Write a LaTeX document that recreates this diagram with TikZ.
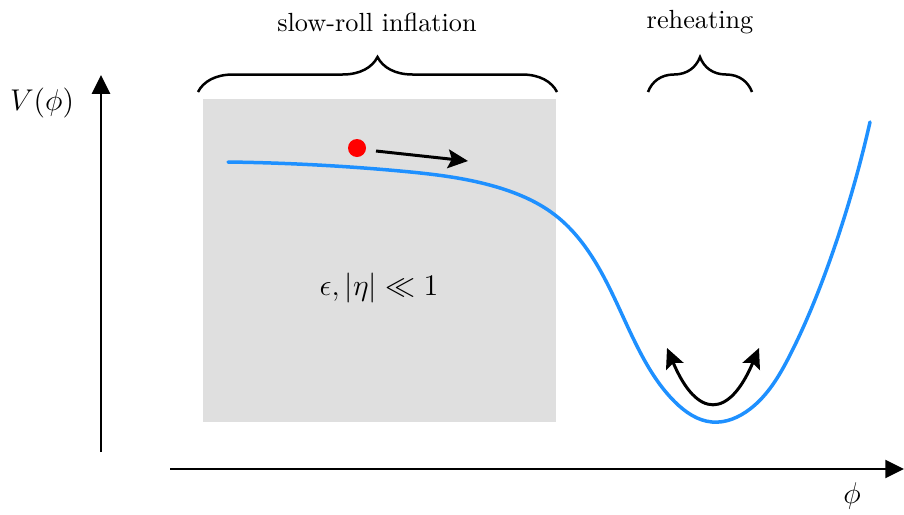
\documentclass[tikz,border=0pt]{standalone}
\usetikzlibrary{arrows.meta,decorations.pathreplacing,hobby}
\definecolor{boxgray}{HTML}{DFDFDF}
\definecolor{potblue}{HTML}{1E90FF}
\definecolor{dotred}{HTML}{FF0000}
\begin{document}
\begin{tikzpicture}[x=0.4pt,y=-0.4pt,
  axis/.style={line width=0.8pt,-{Triangle[length=7.5pt,width=7.2pt]}},
  movearrow/.style={line width=1.2pt,-{Stealth[length=8pt,width=7.5pt,inset=1.5pt]}},
  botharrow/.style={line width=1.2pt,{Stealth[length=8pt,width=7.5pt,inset=1.5pt]}-{Stealth[length=8pt,width=7.5pt,inset=1.5pt]}},
  bracestyle/.style={line width=1pt,decorate,decoration={brace,amplitude=14pt}},
  mathlabel/.style={font=\fontsize{12.8}{15}\selectfont},
  toplabel/.style={font=\fontsize{10.5}{12}\selectfont},
  potential/.style={potblue,line width=1.4pt,line cap=round}]
\useasboundingbox (0,0) rectangle (904,514);
% slow-roll region
\fill[boxgray] (203,99) rectangle (556,422);
% axes
\coordinate (ybot) at (101,452);
\coordinate (ytop) at (101,75);
\coordinate (xleft) at (170,469);
\coordinate (xright) at (904,469);
\draw[axis] (ybot) -- (ytop);
\draw[axis] (xleft) -- (xright);
\node[mathlabel] (vlab) at (42,103) {$V(\phi)$};
\node[mathlabel] (philab) at (852,496) {$\phi$};
% braces
\coordinate (b1l) at (198,92);
\coordinate (b1r) at (557,92);
\coordinate (b2l) at (648,92);
\coordinate (b2r) at (752,92);
\draw[bracestyle] (b1l) -- (b1r);
\draw[bracestyle] (b2l) -- (b2r);
\node[toplabel] (srlab) at (377,22) {slow-roll inflation};
\node[toplabel] (rhlab) at (700,22) {reheating};
% condition
\node[mathlabel] (cond) at (379,288) {$\epsilon, |\eta| \ll 1$};
% potential
\draw[potential, use Hobby shortcut] (228,162) .. (400,171) .. (500,188) .. (555,215) .. (600,270) .. (640,352) .. (675,402) .. (712,422) .. (750,409) .. (790,355) .. (830,260) .. (870,122);
% ball and arrow
\node[circle,fill=dotred,inner sep=0pt,minimum size=7.2pt] (ball) at (357,148) {};
\coordinate (ms) at (376,151);
\coordinate (me) at (468,161);
\draw[movearrow] (ms) -- (me);
% oscillation arrow
\coordinate (ol) at (667,348);
\coordinate (or) at (759,348);
\draw[botharrow] (ol) .. controls (697,419) and (729,419) .. (or);
\end{tikzpicture}
\end{document}
